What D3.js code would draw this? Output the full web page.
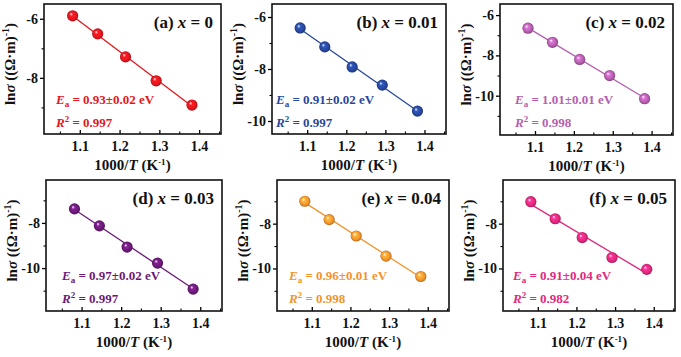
<!DOCTYPE html>
<html><head><meta charset="utf-8">
<script src="https://cdn.jsdelivr.net/npm/d3@7"></script>
<style>
html,body{margin:0;padding:0;background:#fff;}
svg{display:block;}
svg text, svg tspan{font-family:'Liberation Serif','Times New Roman','DejaVu Serif',serif !important;font-weight:bold;}
</style></head>
<body><svg id="c" width="681" height="357" font-family="Liberation Serif, DejaVu Serif, serif"></svg>
<script>
// ---- data ----
const xValues = [1.082, 1.145, 1.215, 1.292, 1.382];
const seriesA = [-5.90, -6.51, -7.29, -8.10, -8.92];
const seriesB = [-6.42, -7.15, -7.92, -8.62, -9.62];
const seriesC = [-6.65, -7.35, -8.20, -9.00, -10.15];
const seriesD = [-7.38, -8.13, -9.07, -9.78, -10.93];
const seriesE = [-7.00, -7.82, -8.55, -9.45, -10.36];
const seriesF = [-7.02, -7.78, -8.62, -9.51, -10.04];
const panelLetters = ["a", "b", "c", "d", "e", "f"];
const dopingLabels = ["0", "0.01", "0.02", "0.03", "0.04", "0.05"];
const eaLabels = ["0.93±0.02", "0.91±0.02", "1.01±0.01", "0.97±0.02", "0.96±0.01", "0.91±0.04"];
const r2Labels = ["0.997", "0.997", "0.998", "0.997", "0.998", "0.982"];
const xTicks = [1.1, 1.2, 1.3, 1.4];
const xMinorTicks = [1.05, 1.15, 1.25, 1.35, 1.45];
const yTicksMajor = [[-6, -8], [-6, -8, -10], [-6, -8, -10], [-8, -10], [-8, -10], [-8, -10]];
const yTicksMinor = [[-7, -9], [-7, -9], [-7, -9, -11], [-7, -9, -11], [-7, -9, -11], [-7, -9, -11]];
const yDomains = [[-9.9, -5.5], [-10.5, -5.5], [-11.95, -5.45], [-11.9, -6.1], [-11.9, -6.05], [-11.9, -6.05]];
const colors = ["#e3161d", "#27479c", "#b45eae", "#6b1a78", "#f2942c", "#e0287c"];
const allSeries = [seriesA, seriesB, seriesC, seriesD, seriesE, seriesF];

// ---- layout ----
const FONT = "'Liberation Serif','Times New Roman','DejaVu Serif',serif";
const frames = [
  {l: 44, t: 4, w: 177, h: 130},
  {l: 272, t: 4, w: 174, h: 130},
  {l: 500, t: 4, w: 173, h: 131},
  {l: 46, t: 180, w: 176, h: 131},
  {l: 277, t: 180, w: 172, h: 131},
  {l: 503, t: 180, w: 172, h: 131}
];
const annOffsets = [12, 4, 15, 16, 12, 10];

const svg = d3.select("#c");
const defs = svg.append("defs");

colors.forEach((c, i) => {
  const g = defs.append("radialGradient").attr("id", "sph" + i)
    .attr("cx", "0.5").attr("cy", "0.5").attr("r", "0.5")
    .attr("fx", "0.35").attr("fy", "0.32");
  g.append("stop").attr("offset", "0%").attr("stop-color", "#ffffff");
  g.append("stop").attr("offset", "30%").attr("stop-color", d3.color(c).brighter(0.6));
  g.append("stop").attr("offset", "75%").attr("stop-color", c);
  g.append("stop").attr("offset", "100%").attr("stop-color", d3.color(c).darker(0.9));
});

function txt(sel) { return sel.style("font-family", FONT).style("font-weight", "bold"); }

frames.forEach((f, i) => {
  const g = svg.append("g").attr("transform", `translate(${f.l},${f.t})`);
  const x = d3.scaleLinear().domain([1.01, 1.455]).range([0, f.w]);
  const y = d3.scaleLinear().domain(yDomains[i]).range([f.h, 0]);
  const col = colors[i];
  const ys = allSeries[i];

  // x axis ticks (inward)
  const xAx = d3.axisBottom(x).tickValues(xTicks).tickSize(-4).tickPadding(7).tickFormat(d3.format(".1f"));
  const xg = g.append("g").attr("transform", `translate(0,${f.h})`).call(xAx);
  xg.attr("font-family", null);
  xg.select(".domain").remove();
  xg.selectAll("line").attr("stroke", "#000").attr("stroke-width", 1.3);
  txt(xg.selectAll("text")).attr("font-size", 14).attr("fill", "#111").attr("dy", "0.71em");
  const xm = d3.axisBottom(x).tickValues(xMinorTicks).tickSize(-2.5).tickFormat("");
  const xmg = g.append("g").attr("transform", `translate(0,${f.h})`).call(xm);
  xmg.select(".domain").remove();
  xmg.selectAll("line").attr("stroke", "#000").attr("stroke-width", 1.1);

  // y axis ticks (outward)
  const yAx = d3.axisLeft(y).tickValues(yTicksMajor[i]).tickSize(4).tickPadding(2).tickFormat(d => String(d));
  const yg = g.append("g").call(yAx);
  yg.attr("font-family", null);
  yg.select(".domain").remove();
  yg.selectAll("line").attr("stroke", "#000").attr("stroke-width", 1.3);
  txt(yg.selectAll("text")).attr("font-size", 14).attr("fill", "#111");
  const ym = d3.axisLeft(y).tickValues(yTicksMinor[i]).tickSize(2.5).tickFormat("");
  const ymg = g.append("g").call(ym);
  ymg.select(".domain").remove();
  ymg.selectAll("line").attr("stroke", "#000").attr("stroke-width", 1.1);

  // frame
  g.append("rect").attr("x", 0).attr("y", 0).attr("width", f.w).attr("height", f.h)
    .attr("fill", "none").attr("stroke", "#111").attr("stroke-width", 1.6);

  // linear fit
  const n = xValues.length;
  const mx = d3.mean(xValues), my = d3.mean(ys);
  let sxy = 0, sxx = 0;
  for (let k = 0; k < n; k++) { sxy += (xValues[k] - mx) * (ys[k] - my); sxx += (xValues[k] - mx) ** 2; }
  const slope = sxy / sxx, icpt = my - slope * mx;
  const x0 = xValues[0], x1 = xValues[n - 1];
  g.append("line").attr("x1", x(x0)).attr("y1", y(slope * x0 + icpt))
    .attr("x2", x(x1)).attr("y2", y(slope * x1 + icpt))
    .attr("stroke", col).attr("stroke-width", 1.3);

  // points
  g.selectAll("circle.pt").data(xValues.map((xv, k) => [xv, ys[k]])).join("circle")
    .attr("class", "pt").attr("cx", d => x(d[0])).attr("cy", d => y(d[1])).attr("r", 5.6)
    .attr("fill", `url(#sph${i})`);

  // title
  const t = txt(g.append("text")).attr("x", f.w - 8).attr("y", 24).attr("text-anchor", "end")
    .attr("font-size", 17).attr("fill", "#111");
  t.append("tspan").text(`(${panelLetters[i]}) `);
  t.append("tspan").style("font-style", "italic").text("x");
  t.append("tspan").text(` = ${dopingLabels[i]}`);

  // annotations
  const ax = annOffsets[i];
  const e = txt(g.append("text")).attr("x", ax).attr("y", 100).attr("font-size", 13).attr("fill", col);
  e.append("tspan").style("font-style", "italic").text("E");
  e.append("tspan").attr("font-size", 9).attr("dy", 3).text("a");
  e.append("tspan").attr("dy", -3).text(` = ${eaLabels[i]} eV`);
  const r = txt(g.append("text")).attr("x", ax).attr("y", 123).attr("font-size", 13).attr("fill", col);
  r.append("tspan").style("font-style", "italic").text("R");
  r.append("tspan").attr("font-size", 9).attr("dy", -5).text("2");
  r.append("tspan").attr("dy", 5).text(` = ${r2Labels[i]}`);

  // x axis title
  const xt = txt(g.append("text")).attr("x", f.w / 2).attr("y", f.h + 36).attr("text-anchor", "middle")
    .attr("font-size", 15).attr("fill", "#111");
  xt.append("tspan").text("1000/");
  xt.append("tspan").style("font-style", "italic").text("T");
  xt.append("tspan").text(" (K");
  xt.append("tspan").attr("font-size", 9).attr("dy", -5).text("-1");
  xt.append("tspan").attr("dy", 5).text(")");

  // y axis title
  const yt = txt(g.append("text")).attr("transform", `translate(${-29},${f.h / 2 - 5}) rotate(-90)`)
    .attr("text-anchor", "middle").attr("font-size", 15).attr("fill", "#111");
  yt.append("tspan").text("ln");
  yt.append("tspan").style("font-style", "italic").text("σ");
  yt.append("tspan").text(" ((Ω·m)");
  yt.append("tspan").attr("font-size", 10).attr("dy", -6).text("-1");
  yt.append("tspan").attr("dy", 6).text(")");
});
</script></body></html>
